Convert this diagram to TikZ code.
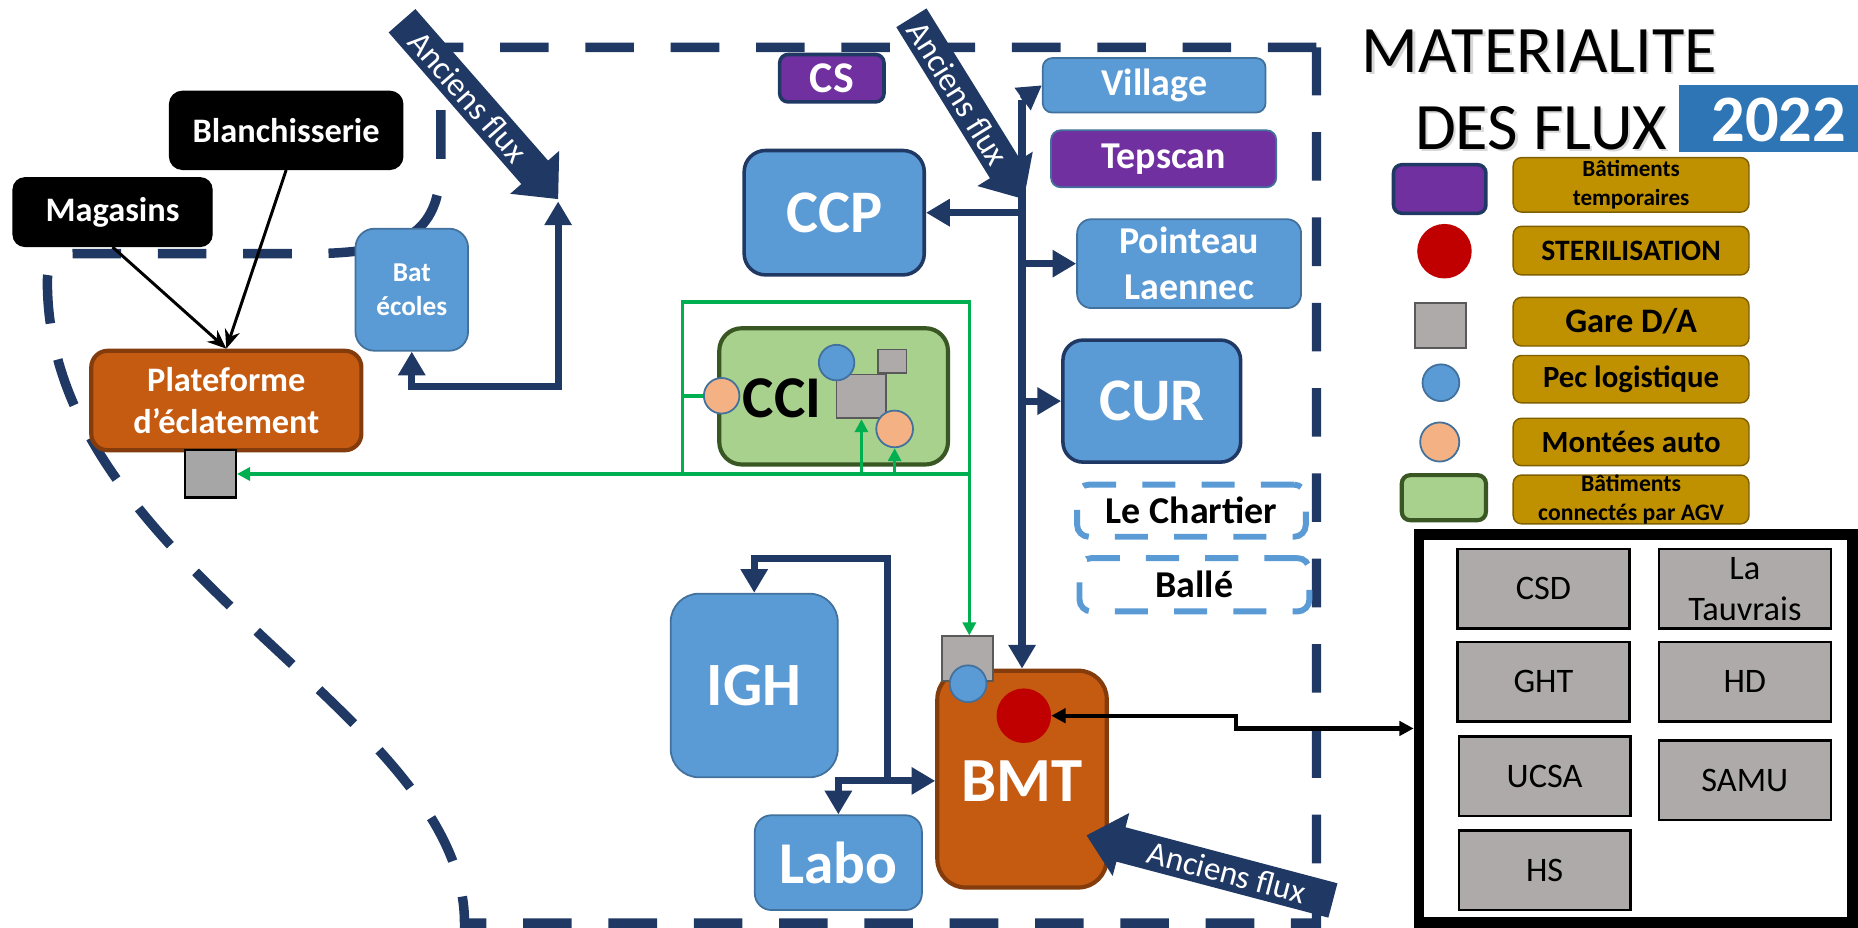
\documentclass[tikz,border=0pt]{standalone}
\usepackage{fontspec}
\setmainfont{Carlito}
\usetikzlibrary{arrows.meta}
\newcommand\myfs[2]{\fontsize{#1}{#2}\selectfont}
\definecolor{navy}{HTML}{203864}
\definecolor{bluefill}{HTML}{5B9BD5}
\definecolor{blueline}{HTML}{41719C}
\definecolor{purp}{HTML}{7030A0}
\definecolor{orfill}{HTML}{C55A11}
\definecolor{orline}{HTML}{843C0C}
\definecolor{agvfill}{HTML}{A9D18E}
\definecolor{agvedge}{HTML}{385723}
\definecolor{agv}{HTML}{00B050}
\definecolor{gold}{HTML}{BF9000}
\definecolor{goldline}{HTML}{7F6000}
\definecolor{yearblue}{HTML}{2E75B6}
\definecolor{steril}{HTML}{C00000}
\definecolor{peach}{HTML}{F4B183}
\definecolor{gareg}{HTML}{AEAAAA}
\definecolor{gareb}{HTML}{A6A6A6}
\definecolor{garel}{HTML}{595959}
\tikzset{
  mybox/.style={draw, rectangle, align=center, inner sep=0pt, text=white},
  bluebox/.style={mybox, fill=bluefill, draw=blueline, line width=1.5pt},
  bigblue/.style={mybox, fill=bluefill, draw=navy, line width=3pt},
  tempbox/.style={mybox, fill=purp, draw=navy, line width=3pt},
  orbox/.style={mybox, fill=orfill, draw=orline, line width=3.5pt},
  blackbox/.style={mybox, fill=black, draw=black, line width=1pt},
  sitebox/.style={mybox, draw=bluefill, line width=5pt, dash pattern=on 28pt off 22pt, rounded corners=10pt, text=black, minimum width=193pt, minimum height=44pt, font=\bfseries\myfs{32}{39}},
  garebox/.style={rectangle, draw=garel, fill=gareg, line width=1.5pt, inner sep=0pt},
  pecdot/.style={circle, draw=blueline, fill=bluefill, line width=1.5pt, inner sep=0pt, minimum size=31pt},
  montdot/.style={circle, draw=blueline, fill=peach, line width=1.5pt, inner sep=0pt, minimum size=31pt},
  extbox/.style={rectangle, draw=black, fill=gareg, line width=2pt, inner sep=0pt, minimum width=145pt, minimum height=67pt, align=center, font=\myfs{29}{35}},
  legbox/.style={mybox, fill=gold, draw=goldline, line width=1.2pt, text=black, rounded corners=7pt, minimum width=199pt},
  navyflow/.style={draw=navy, line width=6pt, line join=miter, -{Triangle[length=20pt,width=22pt]}},
  navyboth/.style={navyflow, {Triangle[length=20pt,width=22pt]}-{Triangle[length=20pt,width=22pt]}},
  agvline/.style={draw=agv, line width=3pt},
  agvarrow/.style={agvline, -{Triangle[length=11pt,width=11pt]}},
  blkarrow/.style={draw=black, line width=2.5pt, -{Stealth[length=16pt,width=13pt]}},
  blkboth/.style={draw=black, line width=3.5pt, line join=miter, {Triangle[length=12pt,width=12pt]}-{Triangle[length=12pt,width=12pt]}},
  oldtext/.style={text=white, font=\myfs{28}{34}, inner sep=0pt},
  titletext/.style={anchor=base west, inner sep=0pt, font=\myfs{56}{60}},
}
\begin{document}
\begin{tikzpicture}[x=1pt,y=-1pt]
\useasboundingbox (0,0) rectangle (1568,783);
\fill[white] (0,0) rectangle (1568,783);

% site perimeter
\draw[navy, line width=8pt, dash pattern=on 41pt off 31pt]
  (1111,40) -- (372,40) -- (372,135) .. controls (372,195) and (345,212) .. (270,214)
  -- (62,214) .. controls (46,214) and (40,222) .. (40,238)
  .. controls (40,480) and (392,600) .. (392,779) -- (1111,779) -- cycle;

% external sources and platform
\node[blackbox, minimum width=197pt, minimum height=66pt, rounded corners=11pt, font=\bfseries\myfs{29}{35}] (blanch) at (241.5,110) {Blanchisserie};
\node[blackbox, minimum width=168pt, minimum height=58pt, rounded corners=10pt, font=\bfseries\myfs{29}{35}] (magasins) at (95,179) {Magasins};
\node[orbox, minimum width=228pt, minimum height=84pt, rounded corners=14pt, font=\bfseries\myfs{29}{36}] (plat) at (191,338) {Plateforme\\d’éclatement};
\node[garebox, fill=gareb, draw=black, line width=2pt, minimum width=43pt, minimum height=40pt] (gp) at (177.5,400) {};
\node[bluebox, minimum width=95pt, minimum height=103pt, rounded corners=16pt, font=\bfseries\myfs{23}{28}] (bat) at (347.5,244.5) {Bat\\écoles};

% buildings on site
\node[tempbox, minimum width=88pt, minimum height=40pt, rounded corners=7pt, font=\bfseries\myfs{37}{44}] (cs) at (702,66) {CS};
\node[bluebox, minimum width=188pt, minimum height=46pt, rounded corners=8pt, font=\bfseries\myfs{32}{39}] (village) at (974,72) {Village};
\node[tempbox, draw=blueline, line width=1.5pt, minimum width=190pt, minimum height=48pt, rounded corners=8pt, font=\bfseries\myfs{32}{39}] (tepscan) at (982,134) {Tepscan};
\node[bigblue, minimum width=152pt, minimum height=105pt, rounded corners=18pt, font=\bfseries\myfs{51}{60}] (ccp) at (704,179.5) {CCP};
\node[bluebox, minimum width=189pt, minimum height=75pt, rounded corners=12pt, font=\bfseries\myfs{32}{39}] (pointeau) at (1003.5,222.5) {Pointeau\\Laennec};
\node[bigblue, minimum width=150pt, minimum height=103pt, rounded corners=17pt, font=\bfseries\myfs{51}{60}] (cur) at (972,338.5) {CUR};
\node[sitebox] (chartier) at (1005.5,431) {Le Chartier};
\node[sitebox, minimum width=194pt, minimum height=45pt] (balle) at (1008,493.5) {Ballé};
\node[bluebox, minimum width=141pt, minimum height=155pt, rounded corners=24pt, font=\bfseries\myfs{52}{60}] (igh) at (636.5,578.5) {IGH};
\node[bluebox, minimum width=141pt, minimum height=80pt, rounded corners=14pt, font=\bfseries\myfs{50}{60}] (labo) at (707.5,728) {Labo};

% AGV loop around CCI
\node[draw=agv, line width=3pt, minimum width=242pt, minimum height=145pt, inner sep=0pt] (agvloop) at (697,327.5) {};
\coordinate (gL) at (576,400);
\coordinate (gR) at (818,400);
\node[mybox, fill=agvfill, draw=agvedge, line width=3.5pt, minimum width=193pt, minimum height=115pt, rounded corners=19pt] (cci) at (703.5,334.5) {};
\node[font=\bfseries\myfs{50}{60}, inner sep=0pt] (ccilab) at (660,336) {CCI};
\node[garebox, minimum width=42pt, minimum height=37pt] (cg) at (727,334.5) {};
\node[garebox, minimum width=24pt, minimum height=20pt] (cgs) at (753,305) {};
\node[pecdot, minimum size=30pt] (cpec) at (706,306) {};
\node[montdot] (orr) at (755,362) {};
\node[montdot, minimum size=30pt] (oll) at (609,334) {};
\draw[agvline] (gL |- oll) -- (oll.west);
\draw[agvarrow] (gR) -- (gp.east);
\draw[agvarrow] (cg.south |- gL) -- (cg.south);
\draw[agvarrow] (orr.south |- gL) -- (orr.south);

% BMT
\node[orbox, minimum width=143pt, minimum height=183pt, rounded corners=24pt] (bmt) at (862.5,657.5) {};
\node[text=white, font=\bfseries\myfs{53}{60}, inner sep=0pt] (bmtlab) at (862.5,659) {BMT};
\node[garebox, minimum width=43pt, minimum height=38pt] (bg) at (816.5,556) {};
\node[pecdot] (bpec) at (817,577) {};
\node[circle, fill=steril, minimum size=46pt, inner sep=0pt] (red) at (864,604) {};
\draw[agvarrow] (gR) -- (gR |- bg.north);

% partner sites
\node[draw=black, line width=9pt, minimum width=366pt, minimum height=327.5pt, inner sep=0pt] (frame) at (1380.5,614.75) {};
\node[extbox] (csd) at (1302.5,497) {CSD};
\node[extbox] (tauv) at (1472.5,497) {La\\Tauvrais};
\node[extbox] (ght) at (1302.5,575.5) {GHT};
\node[extbox] (hd) at (1472.5,575.5) {HD};
\node[extbox] (ucsa) at (1303.5,655) {UCSA};
\node[extbox] (samu) at (1472.5,658.5) {SAMU};
\node[extbox] (hs) at (1303.5,734.5) {HS};

% flows
\draw[blkarrow] (magasins.south) -- (plat.north);
\draw[blkarrow] (blanch.south) -- (plat.north);
\coordinate (k1) at (471,326);
\coordinate (j1) at (471,170);
\draw[navyboth] (bat.south) |- (k1) -- (j1);
\coordinate (t1) at (862.5,84);
\draw[navyflow] (t1) -- (bmt.north);
\draw[navyflow] (t1) -- (village.west);
\draw[navyflow] (t1 |- ccp.east) -- (ccp.east);
\draw[navyflow] (t1 |- pointeau.west) -- (pointeau.west);
\draw[navyflow] (t1 |- cur.west) -- (cur.west);
\coordinate (m0) at (707.5,659);
\coordinate (m1) at (749,659);
\coordinate (m2) at (749,471);
\draw[navyflow] (m1) -- (m2) -| (igh.north);
\draw[navyboth] (labo.north) -- (m0) -- (m0 -| bmt.west);
\coordinate (r1) at (1043,604);
\draw[blkboth] (red.east) -- (r1) |- (frame.west);

% former flows
\begin{scope}[shift={(471,168)}, rotate=-48.8]
  \fill[navy] (0,0) -- (-30,27.5) -- (-30,15) -- (-200,15) -- (-200,-15) -- (-30,-15) -- (-30,-27.5) -- cycle;
  \node[oldtext, rotate=-48.8] (old1) at (-115,0) {Anciens flux};
\end{scope}
\begin{scope}[shift={(864,168)}, rotate=-58.2]
  \fill[navy] (0,0) -- (-30,27.5) -- (-30,15) -- (-180,15) -- (-180,-15) -- (-30,-15) -- (-30,-27.5) -- cycle;
  \node[oldtext, rotate=-58.2] (old2) at (-105,0) {Anciens flux};
\end{scope}
\begin{scope}[shift={(917,705)}, rotate=165.2]
  \fill[navy] (0,0) -- (-30,27.5) -- (-30,15) -- (-215,15) -- (-215,-15) -- (-30,-15) -- (-30,-27.5) -- cycle;
  \node[oldtext, rotate=-14.8] (old3) at (-122.5,0) {Anciens flux};
\end{scope}

% title with a soft drop shadow
\node[titletext, text=black!30, opacity=0.5] at (1151,63) {MATERIALITE};
\node[titletext] (title1) at (1149,61) {MATERIALITE};
\node[titletext, text=black!30, opacity=0.5] at (1196,128) {DES FLUX};
\node[titletext] (title2) at (1194,126) {DES FLUX};
\node[rectangle, fill=yearblue, minimum width=151pt, minimum height=56pt, inner sep=0pt] (yearbox) at (1492.5,100) {};
\node[text=white, font=\bfseries\myfs{56}{60}, inner sep=0pt] (year) at (1501,101) {2022};

% legend
\node[tempbox, minimum width=78pt, minimum height=41pt, rounded corners=7pt] (legtemp) at (1215,159.5) {};
\node[circle, fill=steril, minimum size=46pt, inner sep=0pt] (legster) at (1219,212) {};
\node[garebox, minimum width=43pt, minimum height=38pt] (leggare) at (1215.5,275) {};
\node[pecdot] (legpec) at (1216,323) {};
\node[montdot, minimum size=33pt] (legmont) at (1215,373) {};
\node[mybox, fill=agvfill, draw=agvedge, line width=3.5pt, minimum width=71pt, minimum height=38pt, rounded corners=7pt] (legagv) at (1218.5,420) {};
\node[legbox, minimum height=46pt, font=\bfseries\myfs{19.5}{24}] (lab1) at (1376.5,156) {Bâtiments\\temporaires};
\node[legbox, minimum height=41pt, font=\bfseries\myfs{25}{30}] (lab2) at (1376.5,211.5) {STERILISATION};
\node[legbox, minimum height=41pt, font=\bfseries\myfs{29}{35}] (lab3) at (1376.5,271.5) {Gare D/A};
\node[legbox, minimum height=40pt, font=\bfseries\myfs{26}{31}] (lab4) at (1376.5,320) {Pec logistique};
\node[legbox, minimum height=40pt, font=\bfseries\myfs{26}{31}] (lab5) at (1376.5,373) {Montées auto};
\node[legbox, minimum height=41pt, font=\bfseries\myfs{20}{24}] (lab6) at (1376.5,421.5) {Bâtiments\\connectés par AGV};
\end{tikzpicture}
\end{document}
